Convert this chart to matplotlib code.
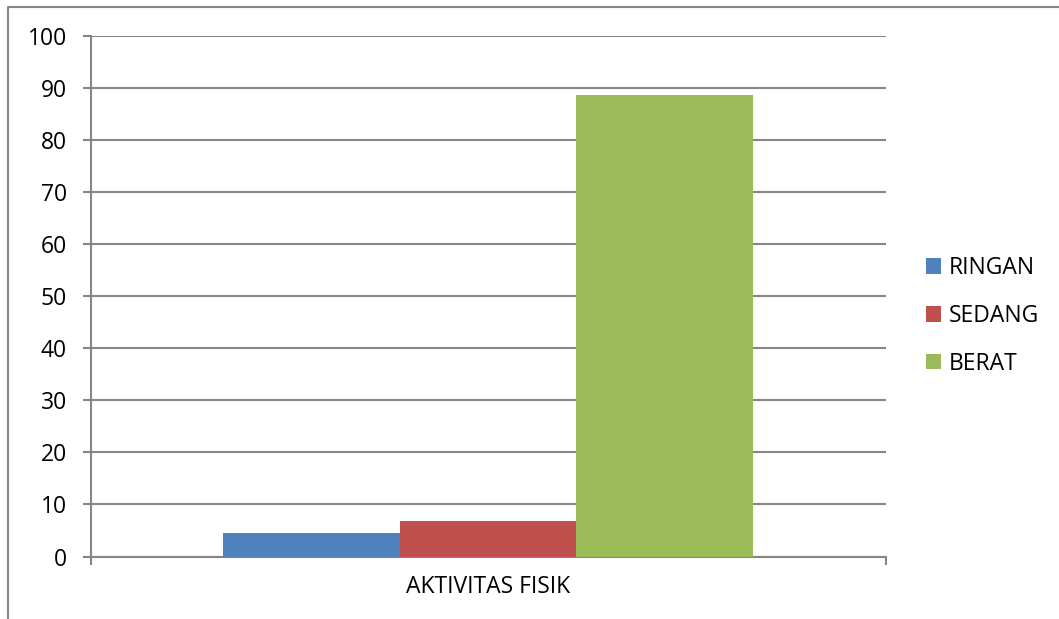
import matplotlib
matplotlib.use("Agg")
import matplotlib.pyplot as plt
from matplotlib.lines import Line2D

categories = ["AKTIVITAS FISIK"]
series = ["RINGAN", "SEDANG", "BERAT"]
values = [4.5, 6.8, 88.6]
colors = ["#4F81BD", "#C0504D", "#9BBB59"]
yticks = [0, 10, 20, 30, 40, 50, 60, 70, 80, 90, 100]

FS = 16.5
plt.rcParams['font.family'] = ['Open Sans', 'DejaVu Sans']
W, H = 1059, 619
fig = plt.figure(figsize=(W/100, H/100), dpi=100)
# outer chart border: only top and left edges are visible in the frame
fig.lines.append(Line2D([8/W, 8/W, 1.0], [0, 1-6.5/H, 1-6.5/H], transform=fig.transFigure,
                        color="#868686", linewidth=1.5))
ax = fig.add_axes([90.5/W, (H-556.5)/H, 795/W, (556.5-36)/H])

n = len(series)
group_w = 530/795
bw = group_w / n
for i, (s, v, c) in enumerate(zip(series, values, colors)):
    x = -group_w/2 + bw*(i+0.5)
    ax.bar(x, v, width=bw, color=c, label=s, zorder=3)

ax.set_xlim(-0.5, 0.5)
ax.set_ylim(0, 100)
ax.set_yticks(yticks)
ax.set_xticks([-0.5, 0.5])
ax.set_xticklabels(["", ""])
ax.tick_params(axis='x', length=6, width=1.5, color="#868686", direction='out')
ax.tick_params(axis='y', length=6, width=1.5, color="#868686", labelsize=FS, pad=11)
ax.grid(axis='y', color="#868686", linewidth=1.5, zorder=0)
for sp in ['top', 'right']:
    ax.spines[sp].set_visible(False)
for sp in ['left', 'bottom']:
    ax.spines[sp].set_color("#868686")
    ax.spines[sp].set_linewidth(1.5)
ax.text(0.5, -(593-556.5)/520.5, categories[0], transform=ax.transAxes,
        ha='center', va='baseline', fontsize=FS)

leg = fig.legend(loc='center left', bbox_to_anchor=(926/W, 1-316/H), frameon=False,
                 fontsize=FS, handlelength=0.65, handleheight=0.65, handletextpad=0.35,
                 labelspacing=1.04, borderaxespad=0, borderpad=0)
fig.savefig("out.png", dpi=100)
